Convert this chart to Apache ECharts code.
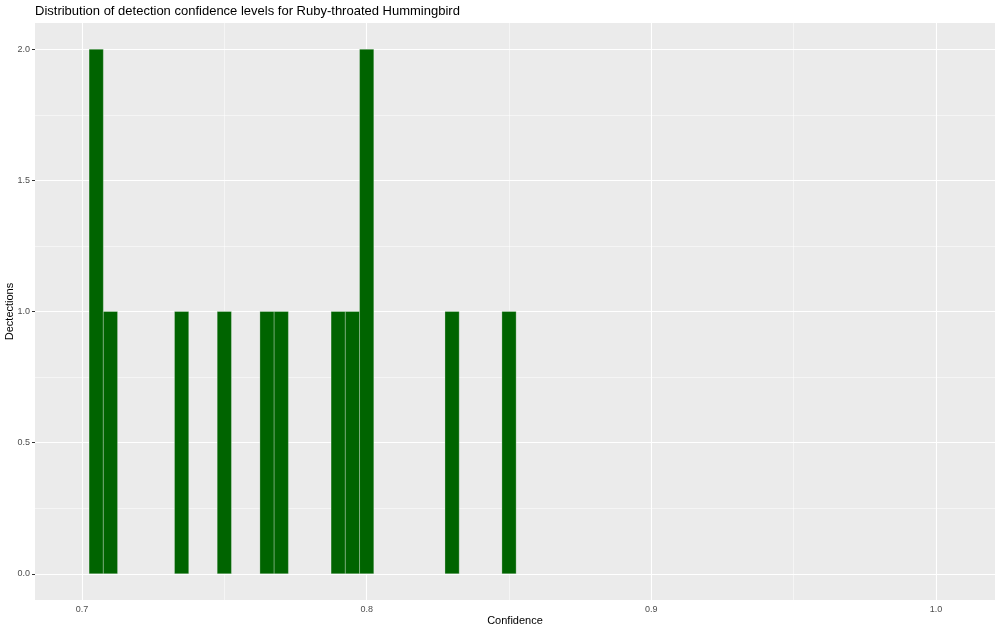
<!DOCTYPE html>
<html>
<head>
<meta charset="utf-8">
<script src="https://cdn.jsdelivr.net/npm/echarts@6/dist/echarts.min.js"></script>
<style>
html,body{margin:0;padding:0;background:#fff;}
#chart{width:1000px;height:632px;}
</style>
</head>
<body>
<div id="chart"></div>
<script>
// Data: histogram bins (centers) and counts
const binCenters = [0.705, 0.710, 0.735, 0.750, 0.765, 0.770, 0.790, 0.795, 0.800, 0.830, 0.850];
const counts     = [2, 1, 1, 1, 1, 1, 1, 1, 2, 1, 1];
const binWidth = 0.005;
const xTicks = [0.7, 0.8, 0.9, 1.0];
const xMinor = [0.75, 0.85, 0.95];
const yTicks = [0, 0.5, 1.0, 1.5, 2.0];
const yMinor = [0.25, 0.75, 1.25, 1.75];

const chart = echarts.init(document.getElementById('chart'));
const FONT = '"Liberation Sans", Arial, Helvetica, sans-serif';

const gridLines = [];
xTicks.forEach(v => gridLines.push({xAxis: v, lineStyle: {color: '#ffffff', width: 1.1, type: 'solid'}}));
xMinor.forEach(v => gridLines.push({xAxis: v, lineStyle: {color: '#ffffff', width: 0.5, type: 'solid'}}));
yTicks.forEach(v => gridLines.push({yAxis: v, lineStyle: {color: '#ffffff', width: 1.1, type: 'solid'}}));
yMinor.forEach(v => gridLines.push({yAxis: v, lineStyle: {color: '#ffffff', width: 0.5, type: 'solid'}}));

chart.setOption({
  animation: false,
  backgroundColor: '#ffffff',
  title: {
    text: 'Distribution of detection confidence levels for Ruby-throated Hummingbird',
    left: 35, top: 5, padding: 0,
    textStyle: {fontFamily: FONT, fontSize: 13, fontWeight: 'normal', color: '#000'}
  },
  grid: {left: 35, right: 5, top: 23, bottom: 32, show: true, backgroundColor: '#EBEBEB', borderWidth: 0,
    containLabel: false, outerBoundsMode: 'none'},
  xAxis: {
    type: 'value', min: 0.6835, max: 1.0207,
    name: 'Confidence', nameLocation: 'middle', nameGap: 15, nameMoveOverlap: false,
    nameTextStyle: {fontFamily: FONT, fontSize: 11, color: '#000'},
    axisLine: {show: false},
    axisTick: {show: true, length: 3, customValues: xTicks, lineStyle: {color: '#333', width: 1}},
    axisLabel: {customValues: xTicks, margin: 5, fontFamily: FONT, fontSize: 9, color: '#4d4d4d',
      formatter: v => Number(v).toFixed(1)},
    splitLine: {show: false}
  },
  yAxis: {
    type: 'value', min: -0.1, max: 2.1,
    name: 'Dectections', nameLocation: 'middle', nameGap: 20, nameRotate: 90, nameMoveOverlap: false,
    nameTextStyle: {fontFamily: FONT, fontSize: 11, color: '#000'},
    axisLine: {show: false},
    axisTick: {show: true, length: 3, customValues: yTicks, lineStyle: {color: '#333', width: 1}},
    axisLabel: {customValues: yTicks, margin: 5, fontFamily: FONT, fontSize: 9, color: '#4d4d4d',
      formatter: v => Number(v).toFixed(1)},
    splitLine: {show: false}
  },
  series: [{
    type: 'custom',
    z: 3,
    data: binCenters.map((c, i) => [c, counts[i]]),
    renderItem: function (params, api) {
      const x = api.value(0), y = api.value(1);
      const p1 = api.coord([x - binWidth / 2, y]);
      const p2 = api.coord([x + binWidth / 2, 0]);
      return {
        type: 'rect',
        shape: {x: p1[0], y: p1[1], width: p2[0] - p1[0], height: p2[1] - p1[1]},
        style: {fill: '#006400', stroke: 'rgba(255,255,255,0.45)', lineWidth: 0.6}
      };
    },
    markLine: {
      silent: true, symbol: 'none', z: 1,
      label: {show: false},
      data: gridLines
    }
  }]
});
</script>
</body>
</html>
